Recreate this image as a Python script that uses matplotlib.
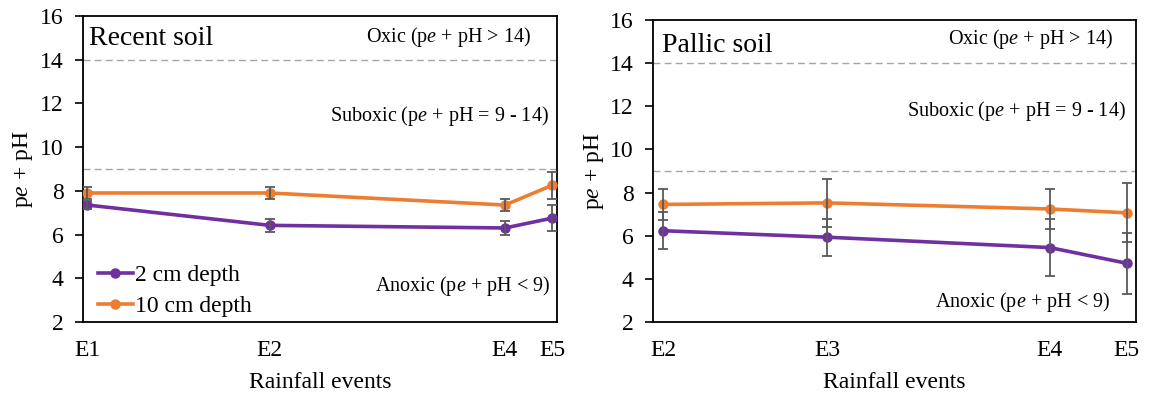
import matplotlib
matplotlib.use("Agg")
import matplotlib.pyplot as plt
from matplotlib.lines import Line2D

plt.rcParams['font.family'] = ['Liberation Serif', 'DejaVu Serif']
plt.rcParams['mathtext.fontset'] = 'custom'
plt.rcParams['mathtext.rm'] = 'Liberation Serif'
plt.rcParams['mathtext.it'] = 'Liberation Serif:italic'

# Day of each rainfall event (relative to E1)
event_days = {"E1": 0, "E2": 31, "E3": 48, "E4": 71, "E5": 79}

# Recent soil
recent_events = ["E1", "E2", "E4", "E5"]
recent_2cm = [7.35, 6.42, 6.30, 6.75]
recent_2cm_err = [0.2, 0.3, 0.33, 0.6]
recent_10cm = [7.9, 7.9, 7.35, 8.25]
recent_10cm_err = [0.28, 0.28, 0.28, 0.62]

# Pallic soil
pallic_events = ["E2", "E3", "E4", "E5"]
pallic_2cm = [6.23, 5.93, 5.45, 4.72]
pallic_2cm_err = [0.85, 0.85, 1.32, 1.42]
pallic_10cm = [7.45, 7.52, 7.24, 7.06]
pallic_10cm_err = [0.7, 1.13, 0.94, 1.37]

purple = "#7030A0"
orange = "#ED7D31"
err_color = "#595959"
ylabel = r"p$\mathit{e}$ + pH"

fig = plt.figure(figsize=(11.54, 3.98), dpi=100)
ax1 = fig.add_axes([0.0719, 0.191, 0.4108, 0.769])
ax2 = fig.add_axes([0.5659, 0.191, 0.4185, 0.7588])


def draw_panel(ax, events, y2, e2, y10, e10, title, title_pos, xlim, zone_pos, ylab_x):
    xs = [event_days[e] for e in events]
    ax.axhline(9, color="#A6A6A6", lw=1.0, ls=(0, (5, 3)), zorder=1)
    ax.axhline(14, color="#A6A6A6", lw=1.0, ls=(0, (5, 3)), zorder=1)
    for y, e, c in ((y2, e2, purple), (y10, e10, orange)):
        ax.plot(xs, y, color=c, lw=2.6, marker="o", ms=6.5, zorder=3)
        ax.errorbar(xs, y, yerr=e, fmt="none", ecolor=err_color, elinewidth=1.3,
                    capsize=3.3, capthick=1.3, zorder=4)
    ax.set_xlim(*xlim)
    ax.set_ylim(2, 16)
    ax.set_yticks(range(2, 17, 2))
    ax.set_xticks(xs)
    ax.set_xticklabels(events)
    ax.tick_params(axis="y", direction="out", length=6, width=1.2, pad=8, labelsize=17)
    ax.tick_params(axis="x", length=0, pad=13, labelsize=17)
    for s in ax.spines.values():
        s.set_linewidth(1.3)
        s.set_color("black")
    ax.set_xlabel("Rainfall events", fontsize=17, labelpad=8)
    ax.set_ylabel(ylabel, fontsize=17)
    ax.yaxis.set_label_coords(ylab_x, 0.5)
    ax.yaxis.label.set_va("center")
    ax.text(title_pos[0], title_pos[1], title, transform=ax.transAxes, fontsize=20,
            ha="left", va="center")
    (ox, oy), (sx, sy), (axx, ay) = zone_pos
    ax.text(ox, oy, r"Oxic (p$\mathit{e}$ + pH > 14)", transform=ax.transAxes,
            fontsize=14.5, ha="right", va="center")
    ax.text(sx, sy, r"Suboxic (p$\mathit{e}$ + pH = 9 - 14)", transform=ax.transAxes,
            fontsize=14.5, ha="right", va="center")
    ax.text(axx, ay, r"Anoxic (p$\mathit{e}$ + pH < 9)", transform=ax.transAxes,
            fontsize=14.5, ha="right", va="center")


draw_panel(ax1, recent_events, recent_2cm, recent_2cm_err, recent_10cm, recent_10cm_err,
           "Recent soil", (0.012, 0.925), (-0.75, 79.85),
           [(0.9447, 0.932), (0.983, 0.674), (0.985, 0.117)], -0.127)
draw_panel(ax2, pallic_events, pallic_2cm, pallic_2cm_err, pallic_10cm, pallic_10cm_err,
           "Pallic soil", (0.019, 0.915), (29.94, 79.94),
           [(0.9536, 0.937), (0.9785, 0.697), (0.946, 0.067)], -0.123)

handles = [Line2D([], [], color=purple, lw=2.6, marker="o", ms=6.5),
           Line2D([], [], color=orange, lw=2.6, marker="o", ms=6.5)]
ax1.legend(handles, ["2 cm depth", "10 cm depth"], loc="lower left",
           bbox_to_anchor=(0.021, 0.0), frameon=False, fontsize=17,
           handlelength=1.5, handletextpad=0.1, labelspacing=0.4, borderaxespad=0.0,
           borderpad=0.2)

fig.savefig("out.png", dpi=100)
